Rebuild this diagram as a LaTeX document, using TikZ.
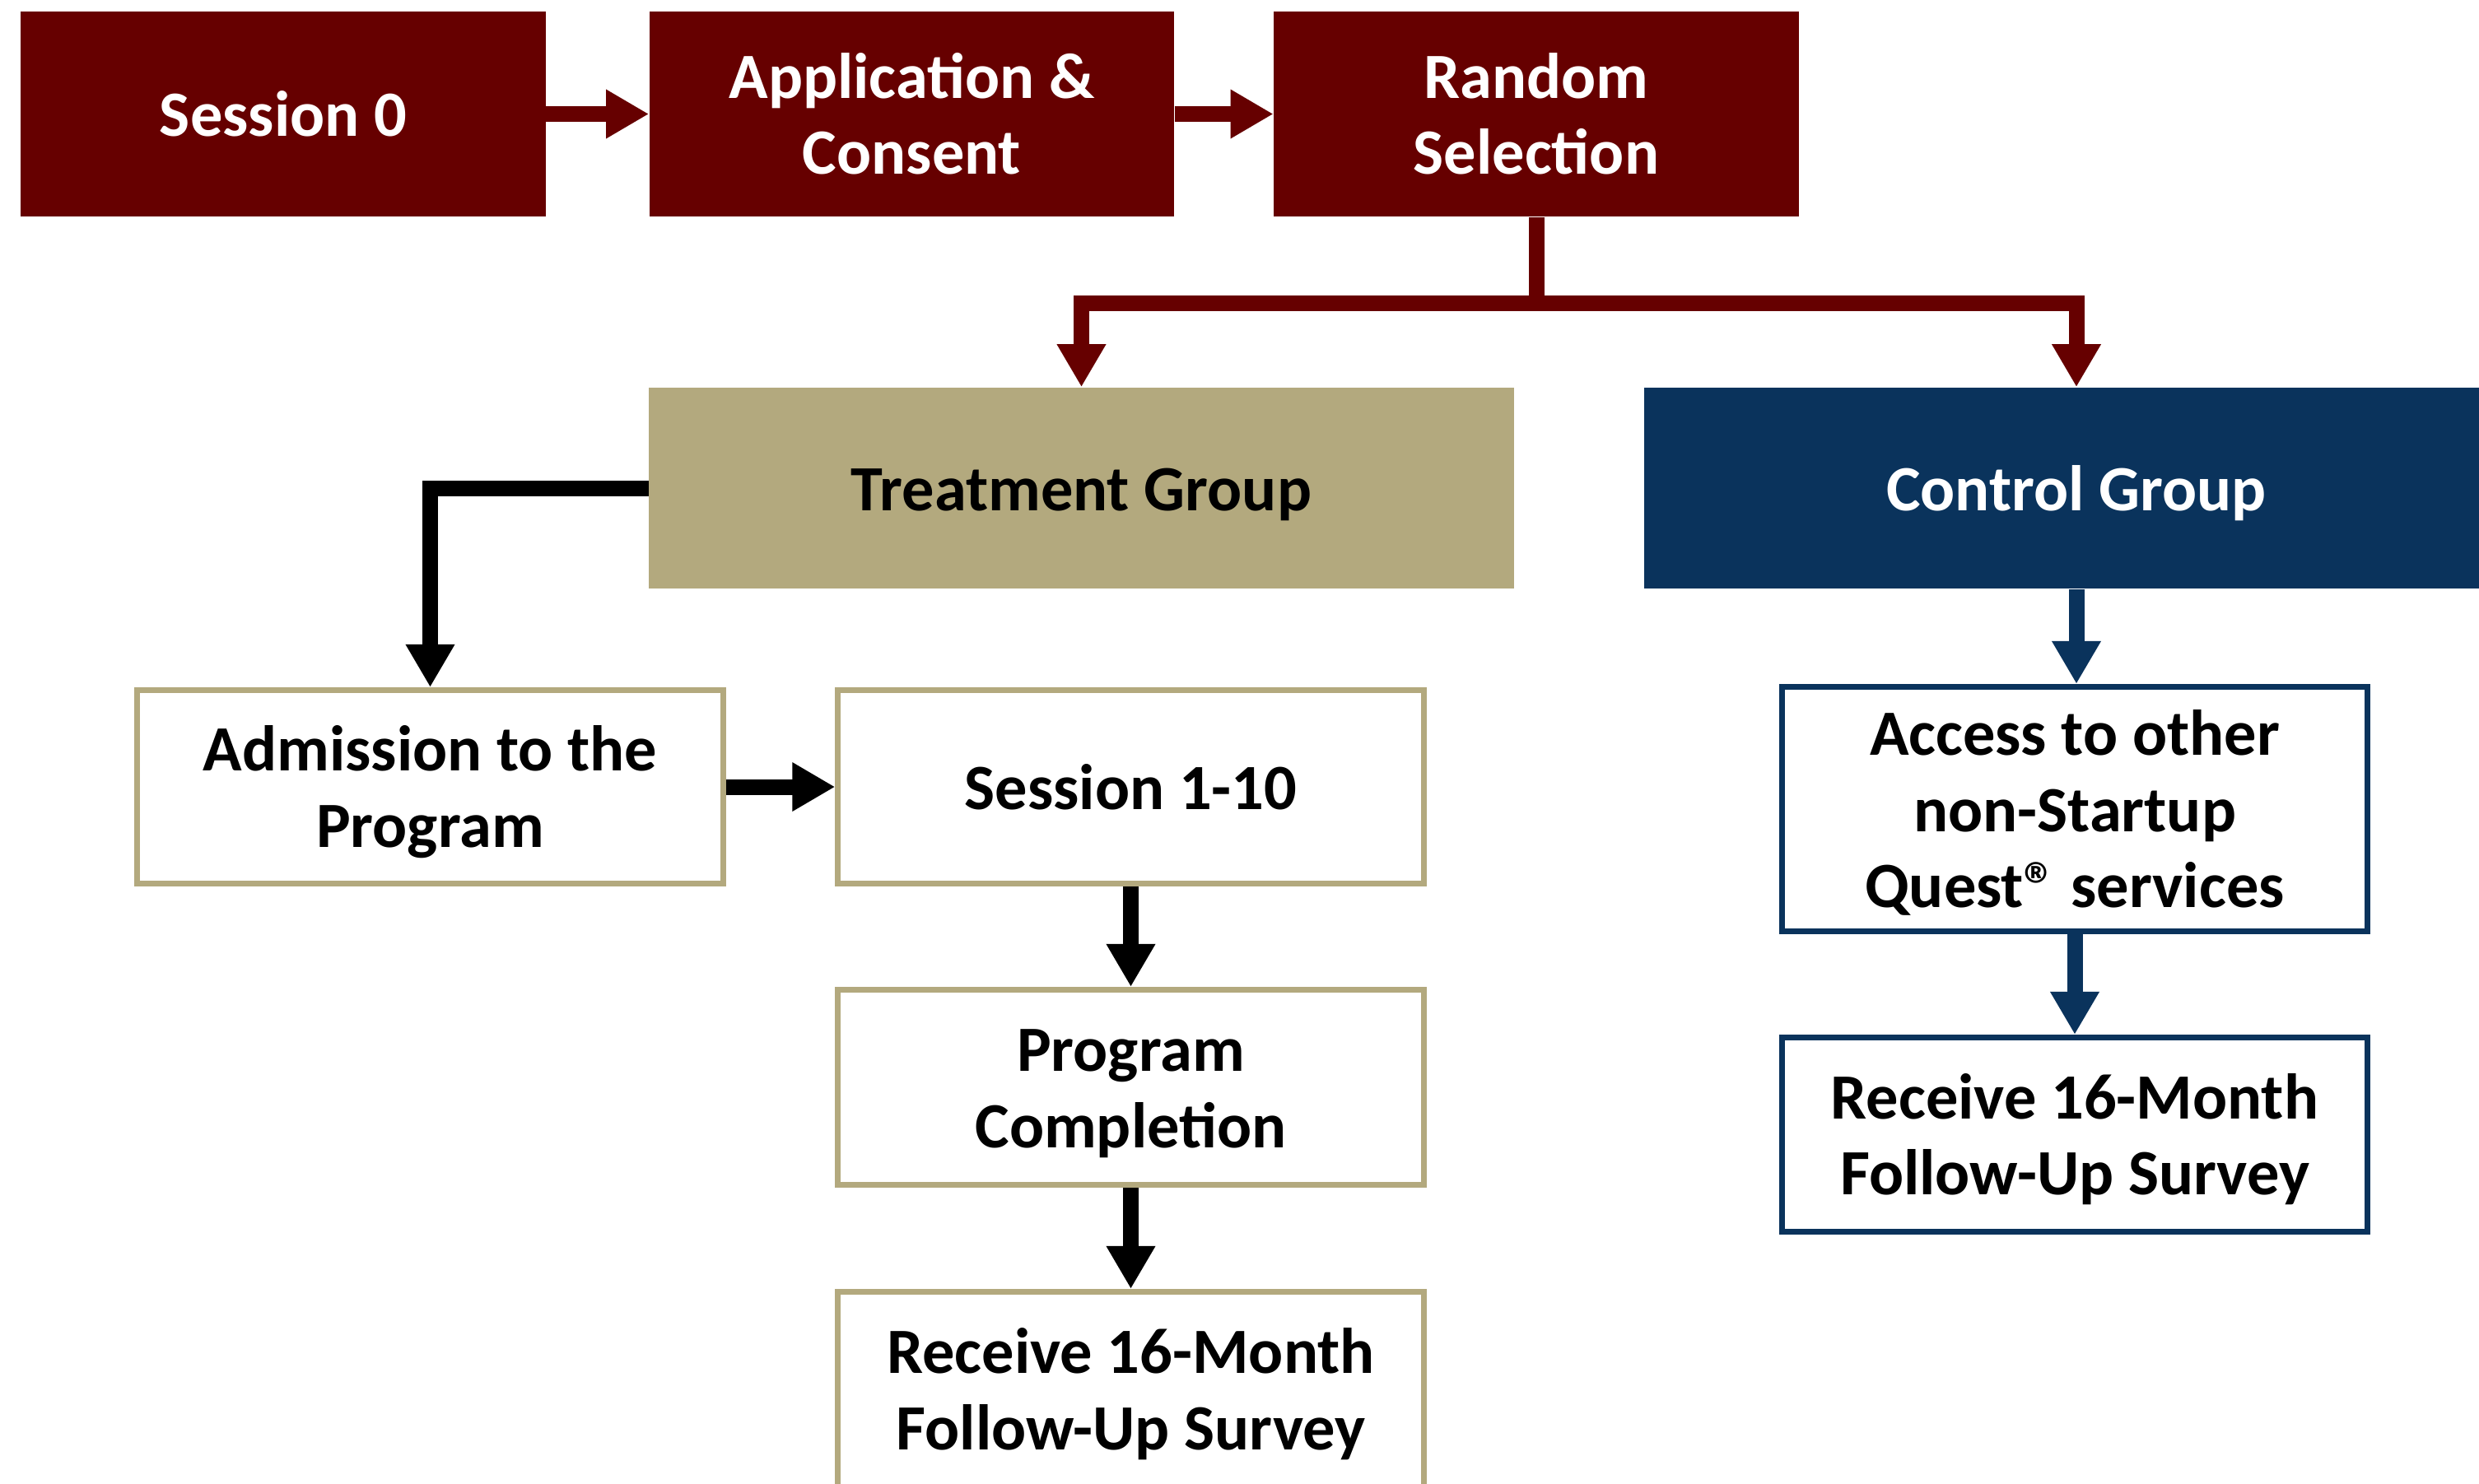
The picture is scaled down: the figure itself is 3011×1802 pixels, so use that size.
\documentclass[tikz,border=0pt]{standalone}
\usepackage{fontspec}
\setmainfont{Carlito}
\usetikzlibrary{arrows.meta}
\definecolor{maroonc}{HTML}{660000}
\definecolor{tanc}{HTML}{B3A97E}
\definecolor{navyc}{HTML}{0A335C}
\newcommand\lnst{\rule[-0.18cm]{0pt}{0.90cm}}
\begin{document}
\begin{tikzpicture}[x=0.01cm,y=-0.01cm,
 box/.style={rectangle, inner sep=0pt, align=center, font=\fontsize{22.3}{26.4}\selectfont\bfseries},
 topbox/.style={box, fill=maroonc, text=white, minimum height=2.49cm, minimum width=6.37cm},
 grpbox/.style={box, minimum height=2.44cm, minimum width=10.5cm},
 outl/.style={box, fill=white, draw=#1, line width=0.07cm, text=black, minimum width=7.11cm},
 conn/.style={line width=0.19cm, -{Triangle[width=0.56cm,length=0.52cm]}, draw=#1},
]
\useasboundingbox (0,0) rectangle (3011,1802);
\fill[white] (0,0) rectangle (3011,1802);

\node[topbox] (s0) at (344,138.5) {\lnst Session 0};
\node[topbox] (app) at (1107.5,138.5) {\lnst Application \&\\\lnst Consent};
\node[topbox] (rs) at (1866,138.5) {\lnst Random\\\lnst Selection};

\node[grpbox, fill=tanc, text=black] (tg) at (1313.5,593) {\lnst Treatment Group};
\node[grpbox, fill=navyc, text=white] (cg) at (2522,593) {\lnst Control Group};

\node[outl=tanc, minimum height=2.35cm] (adm) at (522.5,956) {\lnst Admission to the\\\lnst Program};
\node[outl=tanc, minimum height=2.35cm] (ses) at (1373.5,956) {\lnst Session 1-10};
\node[outl=tanc, minimum height=2.37cm] (pc) at (1373.5,1321) {\lnst Program\\\lnst Completion};
\node[outl=tanc, minimum height=2.37cm] (rt) at (1373.5,1688) {\lnst Receive 16-Month\\\lnst Follow-Up Survey};

\node[outl=navyc, minimum height=2.97cm] (acc) at (2520,983) {\lnst Access to other\\\lnst non-Startup\\\lnst Quest® services};
\node[outl=navyc, minimum height=2.36cm] (rc) at (2520,1378.5) {\lnst Receive 16-Month\\\lnst Follow-Up Survey};

\draw[conn=maroonc] (s0.east) -- (app.west);
\draw[conn=maroonc] (app.east) -- (rs.west);
\coordinate (split) at (rs.south |- 0,368);
\draw[conn=maroonc] (rs.south) -- (split) -| (tg.north);
\draw[conn=maroonc] (split) -| (cg.north);

\draw[conn=black] (tg.west) -| (adm.north);
\draw[conn=black] (adm.east) -- (ses.west);
\draw[conn=black] (ses.south) -- (pc.north);
\draw[conn=black] (pc.south) -- (rt.north);

\draw[conn=navyc] (cg.south) -- (cg.south |- acc.north);
\draw[conn=navyc] (acc.south) -- (rc.north);
\end{tikzpicture}
\end{document}
